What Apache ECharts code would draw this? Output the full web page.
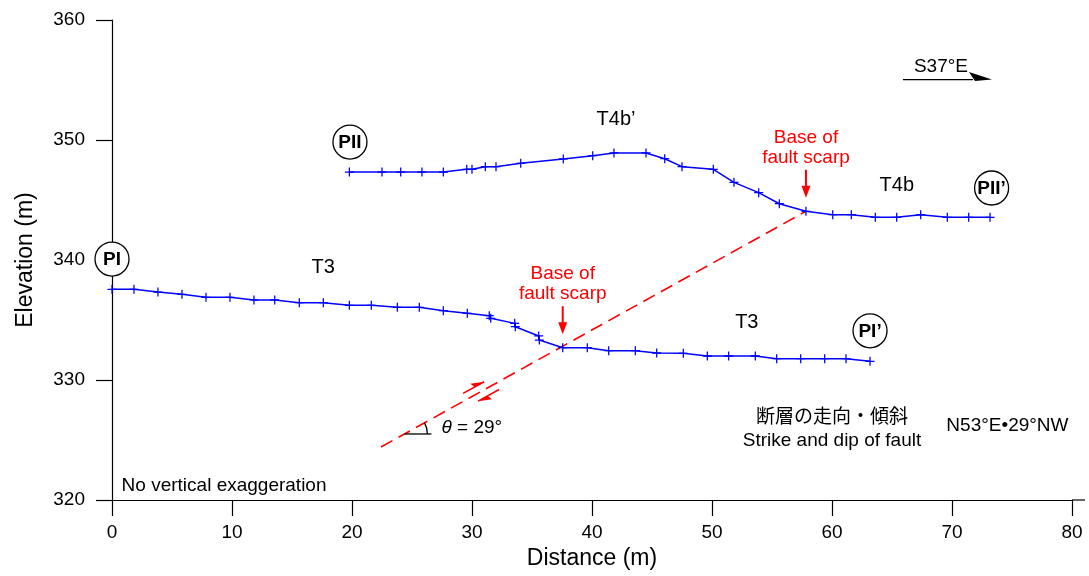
<!DOCTYPE html>
<html>
<head>
<meta charset="utf-8">
<script src="https://cdn.jsdelivr.net/npm/echarts@6/dist/echarts.min.js"></script>
<style>html,body{margin:0;padding:0;background:#fff}#c{width:1089px;height:576px}</style>
</head>
<body>
<div id="c"></div>
<script>
// ---- data ----
const xTicks = [0, 10, 20, 30, 40, 50, 60, 70, 80];
const yTicks = [320, 330, 340, 350, 360];

// Profile PI – PI'
const distI = [0, 1.83, 3.83, 5.83, 7.83, 9.83, 11.83, 13.56, 15.61, 17.61, 19.78, 21.61, 23.78, 25.61, 27.61, 29.61, 31.44, 31.56, 33.56, 33.61, 35.56, 35.61, 37.56, 39.61, 41.39, 43.61, 45.39, 47.61, 49.61, 51.39, 53.61, 55.39, 57.39, 59.39, 61.17, 63.17];
const elevI = [337.56, 337.56, 337.33, 337.14, 336.89, 336.89, 336.67, 336.67, 336.44, 336.44, 336.22, 336.22, 336.06, 336.06, 335.78, 335.56, 335.36, 335.14, 334.72, 334.44, 333.67, 333.33, 332.69, 332.69, 332.44, 332.44, 332.25, 332.22, 332.0, 332.0, 332.0, 331.78, 331.78, 331.78, 331.78, 331.56];

// Profile PII – PII'
const distII = [19.78, 22.5, 24.06, 25.83, 27.61, 29.56, 30.0, 31.11, 32.0, 34.06, 37.61, 40.06, 41.83, 44.5, 46.06, 47.5, 50.11, 51.83, 53.89, 55.61, 57.83, 60.06, 61.61, 63.61, 65.39, 67.39, 69.61, 71.39, 73.17];
const elevII = [347.33, 347.33, 347.33, 347.33, 347.33, 347.56, 347.56, 347.78, 347.78, 348.06, 348.42, 348.69, 348.92, 348.92, 348.44, 347.78, 347.56, 346.47, 345.61, 344.69, 344.06, 343.78, 343.78, 343.56, 343.56, 343.78, 343.56, 343.56, 343.56];

// Fault trace (dip 29°)
const faultDist = [22.42, 57.83];
const faultElev = [324.42, 344.06];

// Text annotations
const profileLabels = ['PI', 'PII', 'PI\u2019', 'PII\u2019'];
const profileLabelPos = [[0, 340.08], [19.83, 349.83], [63.17, 334.1], [73.3, 346.0]];
const terraceLabels = ['T3', 'T4b\u2019', 'T3', 'T4b'];
const terraceLabelPos = [[17.6, 339.4], [42.0, 351.75], [52.9, 334.83], [65.4, 346.25]];
const scarpBase = [[37.56, 332.69], [57.83, 344.06]];

// ---- chart ----
const FONT = '"Liberation Sans", Arial, Helvetica, sans-serif';
const BLUE = '#0000ff';
const RED = '#ff0000';
const plusSymbol = 'path://M0,4.3H10V5.7H0Z M4.3,0H5.7V10H4.3Z';

const zip = (a, b) => a.map((v, i) => [v, b[i]]);

const option = {
  animation: false,
  backgroundColor: '#fff',
  grid: { left: 112, right: 17, top: 20, bottom: 76, containLabel: false },
  xAxis: {
    type: 'value', min: 0, max: 80, interval: 10,
    name: 'Distance (m)', nameLocation: 'middle', nameGap: 46,
    nameTextStyle: { fontFamily: FONT, fontSize: 23, color: '#000' },
    axisLine: { show: true, onZero: false, lineStyle: { color: '#000', width: 1.2 } },
    axisTick: { show: true, inside: false, length: 16, lineStyle: { color: '#000', width: 1.2 } },
    axisLabel: { fontFamily: FONT, fontSize: 19, color: '#000', margin: 23,
      formatter: v => (xTicks.indexOf(v) >= 0 ? String(v) : '') },
    splitLine: { show: false }
  },
  yAxis: {
    type: 'value', min: 320, max: 360, interval: 10,
    name: 'Elevation (m)', nameLocation: 'middle', nameGap: 75,
    nameTextStyle: { fontFamily: FONT, fontSize: 23, color: '#000' },
    axisLine: { show: true, onZero: false, lineStyle: { color: '#000', width: 1.2 } },
    axisTick: { show: true, inside: false, length: 16, lineStyle: { color: '#000', width: 1.2 } },
    axisLabel: { fontFamily: FONT, fontSize: 19, color: '#000', margin: 27,
      formatter: v => (yTicks.indexOf(v) >= 0 ? String(v) : '') },
    splitLine: { show: false }
  },
  series: [
    {
      name: 'fault', type: 'line', data: zip(faultDist, faultElev),
      symbol: 'none', silent: true, z: 1,
      lineStyle: { color: RED, width: 1.6, type: [13, 7] }
    },
    {
      name: 'PI', type: 'line', data: zip(distI, elevI),
      symbol: plusSymbol, symbolSize: 9, showAllSymbol: true, z: 3,
      itemStyle: { color: BLUE }, lineStyle: { color: BLUE, width: 1.5 }
    },
    {
      name: 'PII', type: 'line', data: zip(distII, elevII),
      symbol: plusSymbol, symbolSize: 9, showAllSymbol: true, z: 3,
      itemStyle: { color: BLUE }, lineStyle: { color: BLUE, width: 1.5 }
    }
  ]
};

const chart = echarts.init(document.getElementById('c'), null, { renderer: 'canvas' });
chart.setOption(option);

const P = (x, y) => chart.convertToPixel({ gridIndex: 0 }, [x, y]);

function txt(p, text, size, o) {
  o = o || {};
  const align = o.align || 'center';
  return {
    type: 'text', x: p[0], y: p[1], z: 100, silent: true,
    style: {
      text: text,
      font: (o.style || 'normal') + ' ' + (o.weight || 'normal') + ' ' + size + 'px ' + (o.family || FONT),
      fill: o.color || '#000',
      align: align, textAlign: align,
      verticalAlign: 'middle', textVerticalAlign: 'middle',
      lineHeight: o.lineHeight, rich: o.rich
    }
  };
}
function line(a, b, color, w) {
  return { type: 'line', z: 90, silent: true,
    shape: { x1: a[0], y1: a[1], x2: b[0], y2: b[1] },
    style: { stroke: color, lineWidth: w } };
}
function poly(pts, color) {
  return { type: 'polygon', z: 90, silent: true, shape: { points: pts }, style: { fill: color } };
}

const g = [];

// short extension of the distance axis beyond 80 m
(function () {
  const e = P(80, 320);
  g.push(line([e[0], e[1]], [e[0] + 13, e[1]], '#000', 1.2));
})();

// profile end markers
profileLabels.forEach((t, i) => {
  const p = P(profileLabelPos[i][0], profileLabelPos[i][1]);
  g.push({ type: 'circle', z: 95, silent: true, shape: { cx: p[0], cy: p[1], r: 17 },
    style: { fill: '#fff', stroke: '#000', lineWidth: 1.3 } });
  g.push(txt([p[0], p[1] + 1], t, 19, { weight: 'bold' }));
});

// terrace labels
terraceLabels.forEach((t, i) => {
  g.push(txt(P(terraceLabelPos[i][0], terraceLabelPos[i][1]), t, 20));
});

// base of fault scarp arrows
scarpBase.forEach(pt => {
  const q = P(pt[0], pt[1]);
  const tip = q[1] - 13.5;
  g.push(line([q[0], tip - 28], [q[0], tip - 10], RED, 2));
  g.push(poly([[q[0] - 4.5, tip - 12], [q[0] + 4.5, tip - 12], [q[0], tip]], RED));
  g.push(txt([q[0], tip - 50], 'Base of\nfault scarp', 19, { color: RED, lineHeight: 20 }));
});

// fault geometry in pixels
const fa = P(faultDist[0], faultElev[0]);
const fb = P(faultDist[1], faultElev[1]);
let ux = fb[0] - fa[0], uy = fb[1] - fa[1];
const L = Math.hypot(ux, uy); ux /= L; uy /= L;
const nx = uy, ny = -ux; // normal pointing up-left
const slope = (faultElev[1] - faultElev[0]) / (faultDist[1] - faultDist[0]);
const onFault = x => P(x, faultElev[0] + (x - faultDist[0]) * slope);

// sense-of-slip half arrows
(function () {
  const c1 = onFault(30.42);
  const c = [c1[0] + nx * 7, c1[1] + ny * 7];
  const tail = [c[0] - ux * 12, c[1] - uy * 12], tip = [c[0] + ux * 12, c[1] + uy * 12];
  g.push(line(tail, tip, RED, 1.6));
  g.push(poly([tip, [tip[0] - ux * 13 + nx * 5, tip[1] - uy * 13 + ny * 5], [tip[0] - ux * 11, tip[1] - uy * 11]], RED));
  const c2 = onFault(31.1);
  const d = [c2[0] - nx * 7, c2[1] - ny * 7];
  const tail2 = [d[0] + ux * 12, d[1] + uy * 12], tip2 = [d[0] - ux * 12, d[1] - uy * 12];
  g.push(line(tail2, tip2, RED, 1.6));
  g.push(poly([tip2, [tip2[0] + ux * 13 - nx * 5, tip2[1] + uy * 13 - ny * 5], [tip2[0] + ux * 11, tip2[1] + uy * 11]], RED));
})();

// dip angle mark
(function () {
  const v = onFault(24.37);
  g.push(line([v[0], v[1]], [v[0] + 27, v[1]], '#000', 1.3));
  const ang = Math.atan2(uy, ux);
  g.push({ type: 'arc', z: 90, silent: true,
    shape: { cx: v[0], cy: v[1], r: 23, startAngle: ang, endAngle: 0, clockwise: true },
    style: { stroke: '#000', lineWidth: 1.3, fill: null } });
  g.push(txt([v[0] + 37, v[1] - 6], '{i|\u03b8} = 29\u00b0', 19, { align: 'left',
    rich: { i: { fontStyle: 'italic', fontSize: 19, fontFamily: FONT } } }));
})();

// direction indicator S37°E
(function () {
  const a = P(69.08, 356.08);
  g.push(txt(a, 'S37\u00b0E', 19));
  g.push(line([a[0] - 38, a[1] + 12.5], [a[0] + 32, a[1] + 12.5], '#000', 1.3));
  g.push(poly([[a[0] + 28, a[1] + 5], [a[0] + 51, a[1] + 12.5], [a[0] + 34, a[1] + 14]], '#000'));
})();

// strike and dip
(function () {
  const a = P(60.0, 326.0);
  g.push(txt([a[0], a[1] - 12], '\u65ad\u5c64\u306e\u8d70\u5411\u30fb\u50be\u659c', 19,
    { family: '"Noto Sans CJK JP", "Noto Sans CJK SC", sans-serif' }));
  g.push(txt([a[0], a[1] + 13], 'Strike and dip of fault', 19));
  g.push(txt(P(74.62, 326.17), 'N53\u00b0E\u202229\u00b0NW', 19));
})();

// note
g.push(txt(P(0.8, 321.17), 'No vertical exaggeration', 19, { align: 'left' }));

chart.setOption({ graphic: { elements: g } });
</script>
</body>
</html>
